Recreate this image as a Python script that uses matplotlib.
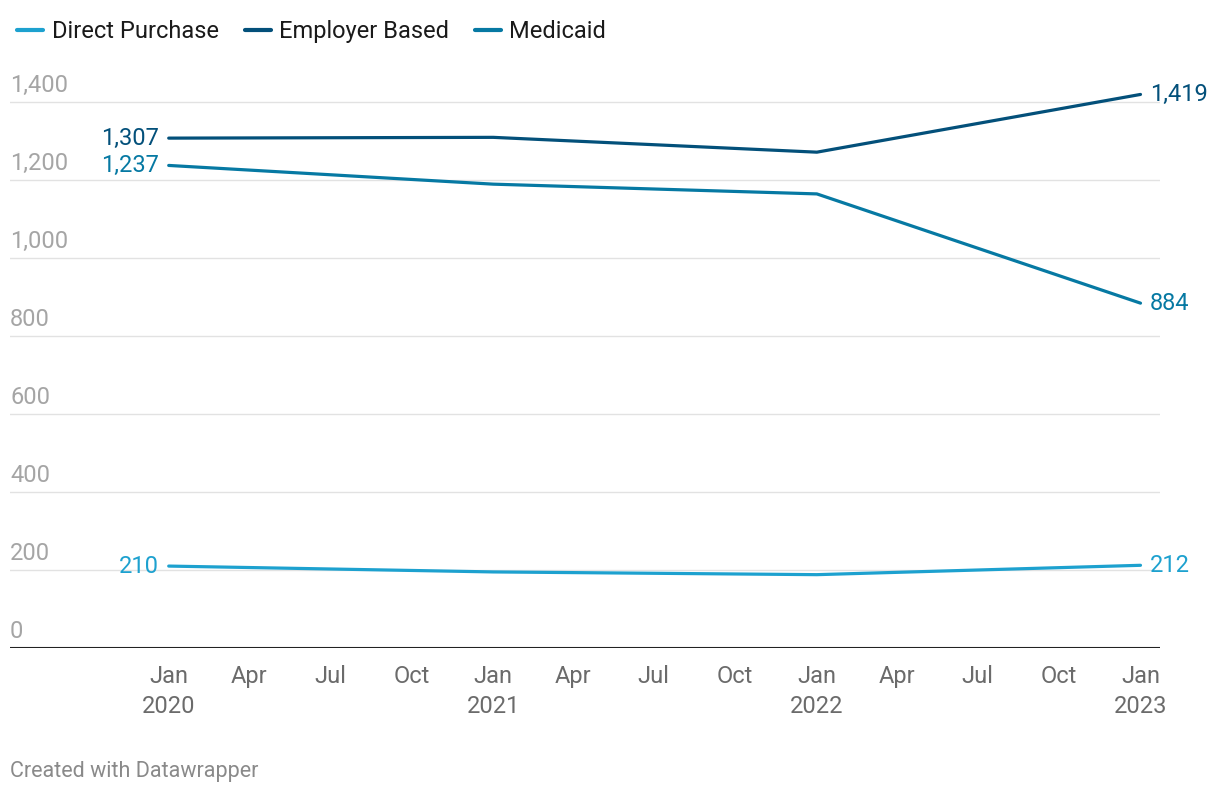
import datetime as dt
import matplotlib
matplotlib.use('Agg')
import matplotlib.pyplot as plt

plt.rcParams['font.family'] = ['Roboto', 'DejaVu Sans']

# data: January of each year
dates = [dt.date(2020, 1, 1), dt.date(2021, 1, 1), dt.date(2022, 1, 1), dt.date(2023, 1, 1)]
direct_purchase = [210, 195, 188, 212]
employer_based = [1307, 1309, 1271, 1419]
medicaid = [1237, 1189, 1164, 884]

series = ['Direct Purchase', 'Employer Based', 'Medicaid']
colors = ['#1da1cf', '#03507a', '#0679a3']
values = [direct_purchase, employer_based, medicaid]

fig = plt.figure(figsize=(12.2, 7.96), dpi=100)
W, H = 1220, 796
ax = fig.add_axes([10 / W, 1 - 648 / H, 1150 / W, 568 / H])

for name, col, vals in zip(series, colors, values):
    ax.plot(dates, vals, color=col, lw=2.3, label=name, solid_capstyle='round')
    ax.annotate(f'{vals[0]:,}', (dates[0], vals[0]), xytext=(-7, 0), textcoords='offset points',
                ha='right', va='center', color=col, fontsize=17)
    ax.annotate(f'{vals[-1]:,}', (dates[-1], vals[-1]), xytext=(7, 0), textcoords='offset points',
                ha='left', va='center', color=col, fontsize=17)

ax.set_ylim(0, 1456)
ax.set_xlim(dt.date(2019, 7, 6), dt.date(2023, 1, 23))

# gridlines with labels above them
yticks = [0, 200, 400, 600, 800, 1000, 1200, 1400]
for y in yticks:
    if y > 0:
        ax.axhline(y, color='#e2e2e2', lw=1, zorder=0)
    ax.text(0, y + 12, f'{y:,}', transform=ax.get_yaxis_transform(), ha='left', va='bottom',
            color='#a5a5a5', fontsize=17)
ax.axhline(0, color='#222222', lw=1.5, zorder=3)
ax.set_yticks([])

xticks = [dt.date(yr, m, 1) for yr in range(2020, 2024) for m in (1, 4, 7, 10)
          if dt.date(yr, m, 1) <= dt.date(2023, 1, 1)]
ax.set_xticks(xticks)
ax.set_xticklabels([d.strftime('%b') + ('\n' + d.strftime('%Y') if d.month == 1 else '') for d in xticks])
ax.tick_params(axis='x', length=0, pad=12, labelsize=17, labelcolor='#6b6b6b')
for lab in ax.get_xticklabels():
    lab.set_linespacing(1.4)

for s in ax.spines.values():
    s.set_visible(False)

leg = fig.legend(loc='upper left', bbox_to_anchor=(8 / W, 1 - 11 / H), ncol=3, frameon=False,
                 fontsize=17, handlelength=1.1, handletextpad=0.35, columnspacing=1.1, borderaxespad=0)
for t in leg.get_texts():
    t.set_color('#1a1a1a')
for h in leg.get_lines():
    h.set_linewidth(3)

fig.text(10 / W, 1 - 772 / H, 'Created with Datawrapper', ha='left', va='center', color='#8a8a8a', fontsize=15.5)

fig.savefig('out.png', dpi=100)
